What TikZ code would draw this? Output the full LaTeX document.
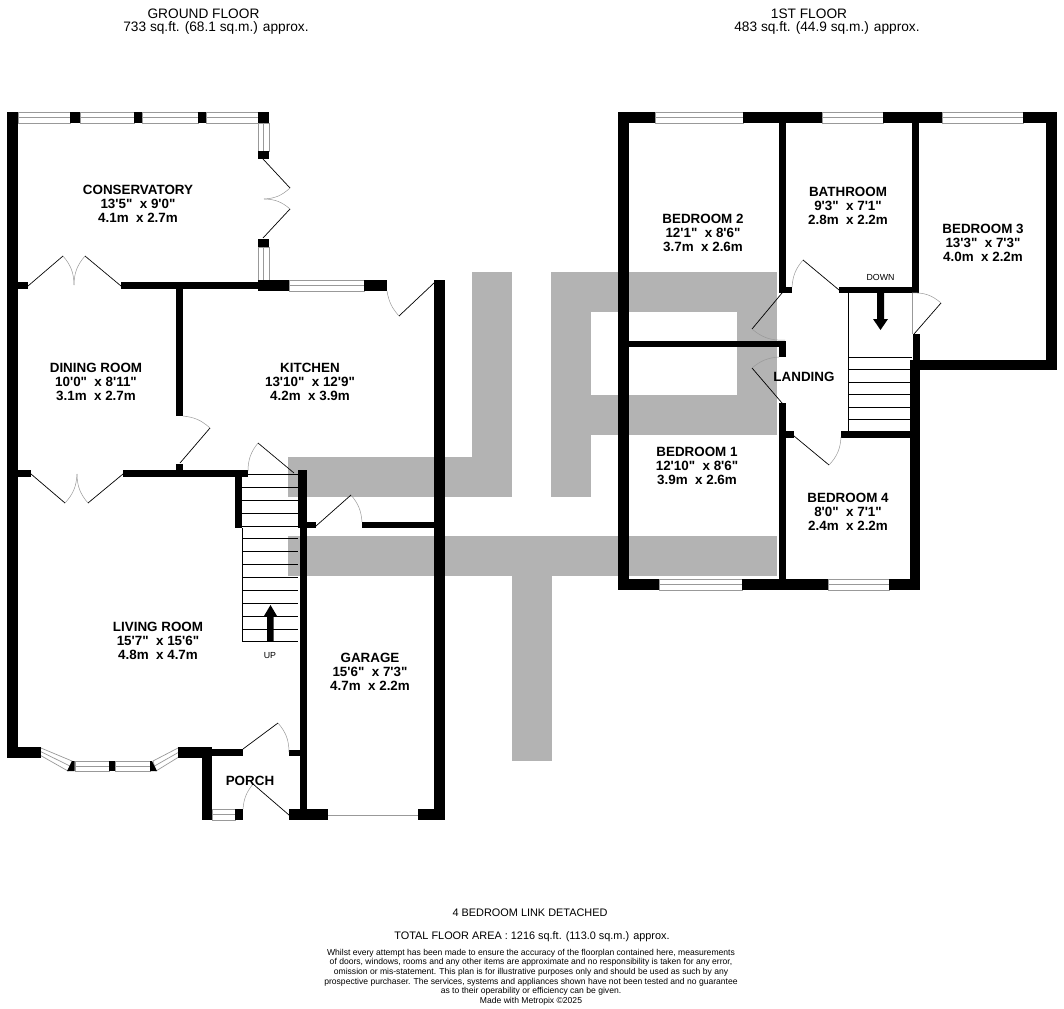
\documentclass[tikz,border=0pt]{standalone}
\usepackage{fontspec}
\newfontfamily\planfont{Liberation Sans}
\definecolor{logogray}{HTML}{B3B3B3}
\definecolor{framegray}{HTML}{999999}
\tikzset{
	wall/.style={fill=black},
	logo/.style={fill=logogray},
	pane/.style={draw=framegray, fill=white, line width=.7pt},
	leaf/.style={draw=black, line width=.7pt},
	swing/.style={draw=framegray, line width=.5pt},
	tread/.style={draw=black, line width=.6pt},
	room/.style={align=center, font=\planfont\bfseries\fontsize{13.4}{13.7}\selectfont, inner sep=0pt, yshift=-.7pt},
	head/.style={font=\planfont\fontsize{13.7}{14}\selectfont, inner sep=0pt, yshift=-1pt},
	sub head/.style={font=\planfont\fontsize{10.9}{13}\selectfont, inner sep=0pt, yshift=-1pt},
	foot/.style={align=center, font=\planfont\fontsize{8.57}{9.55}\selectfont, inner sep=0pt},
	small label/.style={font=\planfont\fontsize{8.8}{9}\selectfont, inner sep=0pt}
}
\begin{document}
\begin{tikzpicture}[x=1pt, y=-1pt]
	\useasboundingbox (0,0) rectangle (1064,1008);

	\fill[logo] (472,272) rectangle (512,497);
	\fill[logo] (288,457) rectangle (472,497);
	\fill[logo] (288,536) rectangle (777,576);
	\fill[logo] (512,576) rectangle (552,761);
	\fill[logo] (551,272) rectangle (591,497);
	\fill[logo] (591,272) rectangle (777,312);
	\fill[logo] (737,312) rectangle (777,395);
	\fill[logo] (591,395) rectangle (777,435);

	\foreach \xa/\xb/\ya/\yb in {18/70/112/123, 80/134/112/123, 142/198/112/123, 206/258/112/123,
		289/364/280/291, 212/235/809/820, 75/109/761/771, 115/150/761/771,
		655/743/112/123, 822/883/112/123, 942/1023/112/123,
		659/742/579/590, 828/889/579/590}
		\draw[pane] (\xa,\ya) rectangle (\xb,\yb) (\xa,{(\ya+\yb)/2}) -- (\xb,{(\ya+\yb)/2});
	\foreach \xa/\xb/\ya/\yb in {258/269/123/151, 258/269/247/280}
		\draw[pane] (\xa,\ya) rectangle (\xb,\yb) ({(\xa+\xb)/2},\ya) -- ({(\xa+\xb)/2},\yb);
	\draw[pane] (41,748) -- (72,761) -- (68,771) -- (38,754) -- cycle (39.5,751) -- (70,766);
	\draw[pane] (178,748) -- (153,761) -- (156,771) -- (182,755) -- cycle (180,751.5) -- (154.5,766);
	\draw[swing] (328,815) -- (418,815);
	\draw[swing] (912,293) -- (912,334);

	\fill[wall] (7,112) rectangle (18,758);
	\fill[wall] (18,747) rectangle (41,758);
	\fill[wall] (70,112) rectangle (80,123);
	\fill[wall] (134,112) rectangle (142,123);
	\fill[wall] (198,112) rectangle (206,123);
	\fill[wall] (258,112) rectangle (269,123);
	\fill[wall] (258,151) rectangle (269,159);
	\fill[wall] (258,239) rectangle (269,247);
	\fill[wall] (258,280) rectangle (289,291);
	\fill[wall] (364,280) rectangle (387,291);
	\fill[wall] (434,280) rectangle (445,820);
	\fill[wall] (18,282) rectangle (28,289);
	\fill[wall] (121,282) rectangle (258,289);
	\fill[wall] (176,289) rectangle (183,416);
	\fill[wall] (176,464) rectangle (183,470);
	\fill[wall] (18,470) rectangle (31,477);
	\fill[wall] (123,470) rectangle (248,477);
	\fill[wall] (235,477) rectangle (242,528);
	\fill[wall] (298,470) rectangle (307,528);
	\fill[wall] (300,528) rectangle (307,815);
	\fill[wall] (298,522) rectangle (316,528);
	\fill[wall] (362,522) rectangle (434,528);
	\fill[wall] (72,761) -- (74.5,761) -- (74.5,771) -- (67,771) -- cycle;
	\fill[wall] (109,761) rectangle (115,771);
	\fill[wall] (150,761) -- (152,761) -- (157,771) -- (150,771) -- cycle;
	\fill[wall] (178,747) rectangle (212,758);
	\fill[wall] (202,758) rectangle (212,820);
	\fill[wall] (212,749) rectangle (243,756);
	\fill[wall] (289,750) rectangle (301,756);
	\fill[wall] (235,809) rectangle (243,820);
	\fill[wall] (289,809) rectangle (328,820);
	\fill[wall] (418,809) rectangle (445,820);

	\fill[wall] (618,112) rectangle (655,123);
	\fill[wall] (743,112) rectangle (822,123);
	\fill[wall] (883,112) rectangle (942,123);
	\fill[wall] (1023,112) rectangle (1057,123);
	\fill[wall] (618,123) rectangle (629,590);
	\fill[wall] (618,579) rectangle (659,590);
	\fill[wall] (742,579) rectangle (828,590);
	\fill[wall] (889,579) rectangle (920,590);
	\fill[wall] (779,123) rectangle (786,293);
	\fill[wall] (779,287) rectangle (792,293);
	\fill[wall] (839,287) rectangle (919,293);
	\fill[wall] (912,123) rectangle (919,293);
	\fill[wall] (1046,123) rectangle (1057,370);
	\fill[wall] (913,334) rectangle (920,360);
	\fill[wall] (910,360) rectangle (1057,370);
	\fill[wall] (910,370) rectangle (920,579);
	\fill[wall] (629,341) rectangle (786,347);
	\fill[wall] (779,347) rectangle (786,357);
	\fill[wall] (779,403) rectangle (786,579);
	\fill[wall] (786,431) rectangle (794,438);
	\fill[wall] (841,431) rectangle (910,438);

	\draw[leaf] (263,159) -- (290,188);
	\draw[swing] (290,188) to[bend left=20] (264,199);
	\draw[leaf] (263,238) -- (290,209);
	\draw[swing] (264,199) to[bend left=20] (290,209);
	\draw[leaf] (28,286) -- (63,256);
	\draw[swing] (63,256) to[bend left=20] (74,285);
	\draw[leaf] (121,286) -- (85,256);
	\draw[swing] (74,285) to[bend left=20] (85,256);
	\draw[leaf] (434,283) -- (399,316);
	\draw[swing] (399,316) to[bend left=16] (387,291);
	\draw[leaf] (180,463) -- (210,428);
	\draw[swing] (183,416) to[bend left=18] (210,428);
	\draw[leaf] (31,474) -- (65,503);
	\draw[swing] (77,474) to[bend left=20] (65,503);
	\draw[leaf] (123,474) -- (88,503);
	\draw[swing] (88,503) to[bend left=20] (77,474);
	\draw[leaf] (294,473) -- (258,443);
	\draw[swing] (248,471) to[bend left=19] (258,443);
	\draw[leaf] (316,526) -- (351,495);
	\draw[swing] (351,495) to[bend left=18] (362,522);
	\draw[leaf] (243,749) -- (278,723);
	\draw[swing] (278,723) to[bend left=20] (289,752);
	\draw[leaf] (289,815) -- (253,784);
	\draw[swing] (243,809) to[bend left=17] (253,784);

	\draw[leaf] (839,290) -- (803,260);
	\draw[swing] (792,287) to[bend left=18] (803,260);
	\draw[leaf] (914,334) -- (941,303);
	\draw[swing] (912,293) to[bend left=22] (941,303);
	\draw[leaf] (782,293) -- (752,329);
	\draw[swing] (785,340) to[bend left=22] (752,329);
	\draw[leaf] (782,403) -- (752,368);
	\draw[swing] (752,368) to[bend left=18] (779,357);
	\draw[leaf] (794,436) -- (829,465);
	\draw[swing] (841,437) to[bend left=20] (829,465);

	\foreach \y in {474,487,500,513,526,538,551,564,577,590,603,616,629,641}
		\draw[tread] (242,\y) -- (298,\y);
	\draw[tread] (242,528) -- (242,641);
	\fill[wall] (267,641) -- (267,616) -- (264,616) -- (270.5,605) -- (277,616) -- (273.5,616) -- (273.5,641) -- cycle;

	\foreach \y in {357,369,382,394,407,419}
		\draw[tread] (848,\y) -- (912,\y);
	\draw[tread] (848,293) -- (848,431);
	\fill[wall] (877,293) -- (877,319) -- (873,319) -- (880.5,330) -- (888,319) -- (884,319) -- (884,293) -- cycle;

	\node[head] (gf) at (203.5,13) {GROUND FLOOR};
	\node[head] (gfa) at (216,27) {733 sq.ft. (68.1 sq.m.) approx.};
	\node[head] (ff) at (809,13) {1ST FLOOR};
	\node[head] (ffa) at (827,27) {483 sq.ft. (44.9 sq.m.) approx.};

	\node[room] (cons) at (138,203) {CONSERVATORY\\13'5"\ \ x 9'0"\\4.1m\ \ x 2.7m};
	\node[room] (din) at (96,381) {DINING ROOM\\10'0"\ \ x 8'11"\\3.1m\ \ x 2.7m};
	\node[room] (kit) at (310,381) {KITCHEN\\13'10"\ \ x 12'9"\\4.2m\ \ x 3.9m};
	\node[room] (liv) at (158,640) {LIVING ROOM\\15'7"\ \ x 15'6"\\4.8m\ \ x 4.7m};
	\node[room] (gar) at (370,671) {GARAGE\\15'6"\ \ x 7'3"\\4.7m\ \ x 2.2m};
	\node[room] (por) at (250,780) {PORCH};
	\node[room] (bd2) at (703,232) {BEDROOM 2\\12'1"\ \ x 8'6"\\3.7m\ \ x 2.6m};
	\node[room] (bth) at (848,205) {BATHROOM\\9'3"\ \ x 7'1"\\2.8m\ \ x 2.2m};
	\node[room] (bd3) at (983,242) {BEDROOM 3\\13'3"\ \ x 7'3"\\4.0m\ \ x 2.2m};
	\node[room] (lan) at (804,376) {LANDING};
	\node[room] (bd1) at (697,465) {BEDROOM 1\\12'10"\ \ x 8'6"\\3.9m\ \ x 2.6m};
	\node[room] (bd4) at (848,511) {BEDROOM 4\\8'0"\ \ x 7'1"\\2.4m\ \ x 2.2m};
	\node[small label] (up) at (270,656) {UP};
	\node[small label] (dn) at (880.5,277) {DOWN};

	\node[sub head] (ttl) at (530,912) {4 BEDROOM LINK DETACHED};
	\node[sub head] (tot) at (532,936) {TOTAL FLOOR AREA : 1216 sq.ft. (113.0 sq.m.) approx.};
	\node[foot] (dis) at (531,977) {Whilst every attempt has been made to ensure the accuracy of the floorplan contained here, measurements\\of doors, windows, rooms and any other items are approximate and no responsibility is taken for any error,\\omission or mis-statement. This plan is for illustrative purposes only and should be used as such by any\\prospective purchaser. The services, systems and appliances shown have not been tested and no guarantee\\as to their operability or efficiency can be given.\\Made with Metropix \textcopyright2025};
\end{tikzpicture}
\end{document}
